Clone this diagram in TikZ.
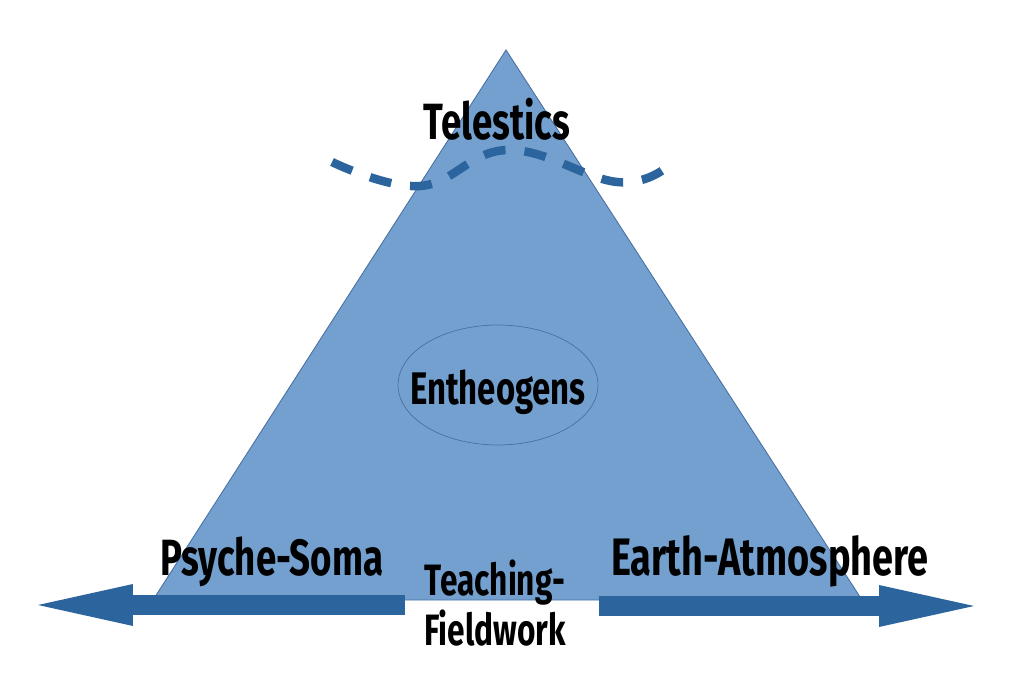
\documentclass[tikz,border=0pt]{standalone}
\usepackage{fontspec}
\setmainfont{Fira Sans}
\newfontfamily\chalkfont{Fira Sans}[FakeStretch=0.72]
\usetikzlibrary{arrows.meta,positioning,shapes.geometric}
\definecolor{pyrblue}{RGB}{116,160,207}
\definecolor{pyredge}{RGB}{72,112,162}
\definecolor{arrowblue}{RGB}{44,101,158}

\begin{document}
\begin{tikzpicture}[x=0.02cm,y=-0.02cm,
  lbl/.style={font=\chalkfont\bfseries\fontsize{29}{32}\selectfont, inner sep=0pt, anchor=base},
  smalllbl/.style={font=\chalkfont\bfseries\fontsize{25}{28}\selectfont, inner sep=0pt, anchor=base},
  bigarrow/.style={arrowblue, line width=0.42cm, -{Triangle[length=1.9cm,width=0.84cm,line width=0pt]}}]
  \useasboundingbox (0,0) rectangle (1024,685);
  % pyramid
  \coordinate (apex) at (506,50);
  \coordinate (bl) at (153,600);
  \coordinate (br) at (862,600);
  \draw[pyredge, fill=pyrblue, line width=0.5pt] (apex) -- (br) -- (bl) -- cycle;
  % dashed wave
  \draw[arrowblue, line width=0.17cm, dash pattern=on 0.44cm off 0.38cm]
    plot[smooth, tension=0.7] coordinates {(332,162) (420,186) (508,150) (617,182) (668,166)};
  \node[draw=pyredge, ellipse, minimum width=4cm, minimum height=2.4cm] (core) at (498,385) {};
  \node[lbl] (telestics) at (497,140) {Telestics};
  \node[smalllbl, font=\chalkfont\bfseries\fontsize{26}{28}\selectfont] (entheo) at (core.center |- 0,405) {Entheogens};
  \node[lbl] (psyche) at (272,575) {Psyche-Soma};
  \node[lbl, font=\chalkfont\bfseries\fontsize{30}{32}\selectfont] (earth) at (770,575) {Earth-Atmosphere};
  \node[smalllbl, align=center, anchor=center] (teach) at (495,603) {Teaching-\\Fieldwork};
  % arrows out of the base
  \coordinate (lstart) at (405,605);
  \coordinate (ltip) at (38,605);
  \coordinate (rstart) at (599,606);
  \coordinate (rtip) at (974,606);
  \draw[bigarrow] (lstart) -- (ltip);
  \draw[bigarrow] (rstart) -- (rtip);
\end{tikzpicture}
\end{document}
